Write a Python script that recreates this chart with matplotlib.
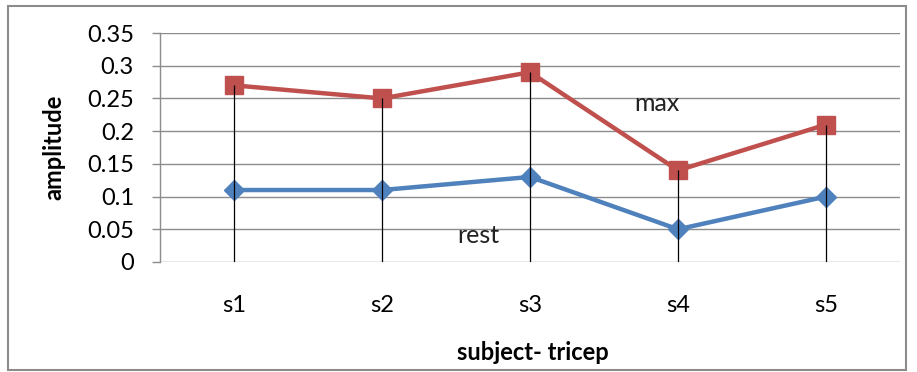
import matplotlib
matplotlib.use("Agg")
import matplotlib.pyplot as plt
from matplotlib.patches import Rectangle

categories = ["s1", "s2", "s3", "s4", "s5"]
max_vals = [0.27, 0.25, 0.29, 0.14, 0.21]
rest_vals = [0.11, 0.11, 0.13, 0.05, 0.10]
y_ticks = [0, 0.05, 0.1, 0.15, 0.2, 0.25, 0.3, 0.35]
y_tick_labels = ["0", "0.05", "0.1", "0.15", "0.2", "0.25", "0.3", "0.35"]

plt.rcParams['font.family'] = ['Lato', 'DejaVu Sans']

fig = plt.figure(figsize=(9.17, 3.72), dpi=100)
fig.patches.append(Rectangle((8/917, 1-370/372), 898/917, 364/372, transform=fig.transFigure,
                             fill=False, edgecolor="#8c8c8c", linewidth=1.5))
ax = fig.add_axes([160/917, 1-262/372, 740/917, 229/372])

x = list(range(len(categories)))
grid_c = "#8c8c8c"
for t in y_ticks:
    ax.axhline(t, color=grid_c, linewidth=1.0, zorder=1)

ax.plot(x, rest_vals, color="#4F81BD", linewidth=3.2, marker="D", markersize=10,
        markerfacecolor="#4F81BD", markeredgecolor="#4F81BD", zorder=3)
ax.plot(x, max_vals, color="#C0504D", linewidth=3.2, marker="s", markersize=12.5,
        markerfacecolor="#C0504D", markeredgecolor="#C0504D", zorder=3)
ax.vlines(x, 0, max_vals, color="black", linewidth=0.9, zorder=4)

ax.text(2.86, 0.243, "max", fontsize=18, ha="center", va="center", color="#222222")
ax.text(1.65, 0.04, "rest", fontsize=18, ha="center", va="center", color="#222222")

ax.set_xlim(-0.5, 4.5)
ax.set_ylim(0, 0.35)
ax.set_xticks(x)
ax.set_xticklabels(categories, fontsize=17)
ax.set_yticks(y_ticks)
ax.set_yticklabels(y_tick_labels, fontsize=17)
ax.tick_params(axis="x", length=0, pad=24)
ax.tick_params(axis="y", length=5.8, color=grid_c, width=1.0, pad=13)
for s in ["top", "right", "bottom"]:
    ax.spines[s].set_visible(False)
ax.spines["left"].set_color(grid_c)
ax.spines["left"].set_linewidth(1.0)

ax.set_ylabel("amplitude", fontsize=17, fontweight="bold", va="center")
ax.yaxis.set_label_coords((54 - 160) / 740, 0.5)
ax.set_xlabel("subject- tricep", fontsize=17, fontweight="bold", va="center")
ax.xaxis.set_label_coords((533 - 160) / 740, (262 - 352) / 229)

fig.savefig("out.png", dpi=100)
